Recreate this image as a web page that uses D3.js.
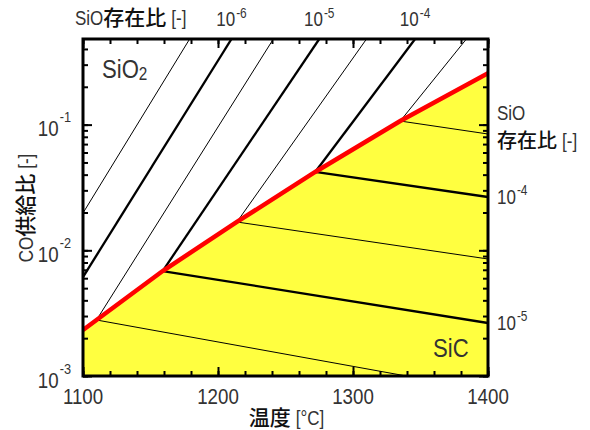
<!DOCTYPE html>
<html lang="ja">
<head>
<meta charset="utf-8">
<title>SiO2 / SiC</title>
<script src="https://cdn.jsdelivr.net/npm/d3@7"></script>
<style>
  body { margin: 0; background: #fff; }
  svg text { font-family: "Liberation Sans", Arial, sans-serif; fill: #333; }
  svg text.jp { font-family: "Noto Sans CJK JP", sans-serif; fill: #111; font-weight: 500; }
</style>
</head>
<body>
<div id="chart"></div>
<script>
// axis ticks
const tempTicks = [1100, 1200, 1300, 1400];
const tempMinor = [1100, 1120, 1140, 1160, 1180, 1200, 1220, 1240, 1260, 1280, 1300, 1320, 1340, 1360, 1380, 1400];
const coTicks = [0.001, 0.01, 0.1];

// SiO2 / SiC boundary (red)
const boundaryT = [1100, 1110, 1159, 1214, 1272, 1335, 1400];
const boundaryCO = [0.00232, 0.00279, 0.00684, 0.0168, 0.0420, 0.1068, 0.257];

// SiO ratio lines, SiO2 side
const upperRatio = [3e-7, 1e-6, 3e-6, 1e-5, 3e-5, 1e-4, 3e-4];
const upperStartT = [1100, 1100, 1110, 1159, 1214, 1272, 1335];
const upperStartCO = [0.0198, 0.00613, 0.00279, 0.00684, 0.0168, 0.0420, 0.1068];
const upperEndT = [1179, 1210, 1241, 1275, 1310, 1346, 1384];
const upperEndCO = [0.48, 0.48, 0.48, 0.48, 0.48, 0.48, 0.48];

// SiO ratio lines, SiC side
const lowerRatio = [3e-6, 1e-5, 3e-5, 1e-4, 3e-4];
const lowerStartT = [1110, 1159, 1214, 1272, 1335];
const lowerStartCO = [0.00279, 0.00684, 0.0168, 0.0420, 0.1068];
const lowerEndT = [1400, 1400, 1400, 1400, 1400];
const lowerEndCO = [0.000763, 0.00264, 0.00853, 0.02655, 0.0842];

const W = 590, H = 430;
const LAT = 0.85; // latin glyphs are drawn a bit narrow in the original
const x = d3.scaleLinear().domain([1100, 1400]).range([83, 488]);
const y = d3.scaleLog().domain([0.001, 0.48]).range([376, 39]);

const svg = d3.select('#chart').append('svg')
  .attr('width', W).attr('height', H);

svg.append('clipPath').attr('id', 'plot')
  .append('rect')
  .attr('x', x(1100)).attr('y', y(0.48))
  .attr('width', x(1400) - x(1100)).attr('height', y(0.001) - y(0.48));

const plot = svg.append('g').attr('clip-path', 'url(#plot)');

const boundary = boundaryT.map((t, i) => [t, boundaryCO[i]]);

// SiC area (yellow)
plot.append('path')
  .datum(boundary)
  .attr('d', d3.area().x(d => x(d[0])).y0(y(0.001)).y1(d => y(d[1])))
  .attr('fill', '#ffff40');

const isDecade = r => Math.abs(Math.log10(r) - Math.round(Math.log10(r))) < 1e-6;
const line = d3.line().x(d => x(d[0])).y(d => y(d[1]));

const upper = upperRatio.map((r, i) => ({ r, pts: [[upperStartT[i], upperStartCO[i]], [upperEndT[i], upperEndCO[i]]] }));
const lower = lowerRatio.map((r, i) => ({ r, pts: [[lowerStartT[i], lowerStartCO[i]], [lowerEndT[i], lowerEndCO[i]]] }));

plot.selectAll('path.sio')
  .data(upper.concat(lower))
  .enter().append('path')
  .attr('class', 'sio')
  .attr('d', d => line(d.pts))
  .attr('fill', 'none')
  .attr('stroke', '#000')
  .attr('stroke-width', d => isDecade(d.r) ? 2.3 : 1)
  .attr('stroke-linejoin', 'round');

plot.append('path')
  .datum(boundary)
  .attr('d', line)
  .attr('fill', 'none')
  .attr('stroke', '#ff0000')
  .attr('stroke-width', 4.5);

// ticks (inside)
const yMinor = [];
coTicks.forEach(d => { for (let m = 1; m < 10; m++) if (d * m <= 0.48) yMinor.push(d * m); });

function ticks(axis, tx, ty) {
  svg.append('g')
    .attr('transform', 'translate(' + tx + ',' + ty + ')')
    .call(axis)
    .call(g => g.select('.domain').remove())
    .call(g => g.selectAll('line').attr('stroke', '#000').attr('stroke-width', 2))
    .call(g => g.selectAll('text').remove());
}
ticks(d3.axisBottom(x).tickValues(tempMinor).tickSize(-5), 0, y(0.001));
ticks(d3.axisBottom(x).tickValues(tempTicks).tickSize(-9), 0, y(0.001));
ticks(d3.axisTop(x).tickValues(tempMinor).tickSize(-5), 0, y(0.48));
ticks(d3.axisTop(x).tickValues(tempTicks).tickSize(-9), 0, y(0.48));
ticks(d3.axisLeft(y).tickValues(yMinor).tickSize(-5), x(1100), 0);
ticks(d3.axisLeft(y).tickValues(coTicks).tickSize(-9), x(1100), 0);
ticks(d3.axisRight(y).tickValues(yMinor).tickSize(-5), x(1400), 0);
ticks(d3.axisRight(y).tickValues(coTicks).tickSize(-9), x(1400), 0);

// frame
svg.append('rect')
  .attr('x', x(1100)).attr('y', y(0.48))
  .attr('width', x(1400) - x(1100)).attr('height', y(0.001) - y(0.48))
  .attr('fill', 'none').attr('stroke', '#000').attr('stroke-width', 3);

// text made of pieces: latin pieces squeezed, CJK pieces not
function rich(tx, ty, pieces, anchor, rot) {
  const g = svg.append('g')
    .attr('transform', 'translate(' + tx + ',' + ty + ')' + (rot ? ' rotate(' + rot + ')' : ''));
  const inner = g.append('g');
  let cx = 0;
  pieces.forEach(p => {
    const sx = p.jp ? 1 : LAT;
    const pg = inner.append('g')
      .attr('transform', 'translate(' + cx + ',' + (p.dy || 0) + ') scale(' + sx + ',1)');
    const t = pg.append('text')
      .attr('class', p.jp ? 'jp' : null)
      .attr('font-size', p.size)
      .text(p.text);
    cx += t.node().getComputedTextLength() * sx + (p.gap || 0);
  });
  const shift = anchor === 'middle' ? -cx / 2 : anchor === 'end' ? -cx : 0;
  inner.attr('transform', 'translate(' + shift + ',0)');
}

const expo = d => String(Math.round(Math.log10(d)));

// x tick labels
tempTicks.forEach(d => rich(x(d), 404, [{ text: String(d), size: 22 }], 'middle'));

// y tick labels
coTicks.forEach(d => rich(71, y(d) + 11.5, [
  { text: '10', size: 22, gap: 1 },
  { text: expo(d), size: 15, dy: -14 }
], 'end'));

// top labels (SiO ratio where the line meets the upper edge)
upper.filter(d => isDecade(d.r)).forEach(d => rich(x(d.pts[1][0]), 26, [
  { text: '10', size: 20, gap: 1 },
  { text: expo(d.r), size: 14, dy: -8 }
], 'middle'));

// right labels (SiO ratio where the line meets the right edge)
lower.filter(d => isDecade(d.r)).forEach(d => rich(497, y(d.pts[1][1]) + 7, [
  { text: '10', size: 20, gap: 1 },
  { text: expo(d.r), size: 14, dy: -9 }
]));

// titles
rich(75, 25, [
  { text: 'SiO', size: 20 },
  { text: '存在比', size: 21, jp: true, gap: 5 },
  { text: '[-]', size: 20 }
]);

rich(497, 120, [{ text: 'SiO', size: 20 }]);
rich(497, 148, [
  { text: '存在比', size: 20, jp: true, gap: 5 },
  { text: '[-]', size: 20 }
]);

rich((x(1100) + x(1400)) / 2 + 1, 425, [
  { text: '温度', size: 21, jp: true, gap: 5 },
  { text: '[°C]', size: 20 }
], 'middle');

rich(33, 208, [
  { text: 'CO', size: 20 },
  { text: '供給比', size: 21, jp: true, gap: 5 },
  { text: '[-]', size: 20 }
], 'middle', -90);

// phase labels
rich(102, 78, [
  { text: 'SiO', size: 26 },
  { text: '2', size: 18, dy: 2 }
]);
rich(433, 357, [{ text: 'SiC', size: 26 }]);
</script>
</body>
</html>
